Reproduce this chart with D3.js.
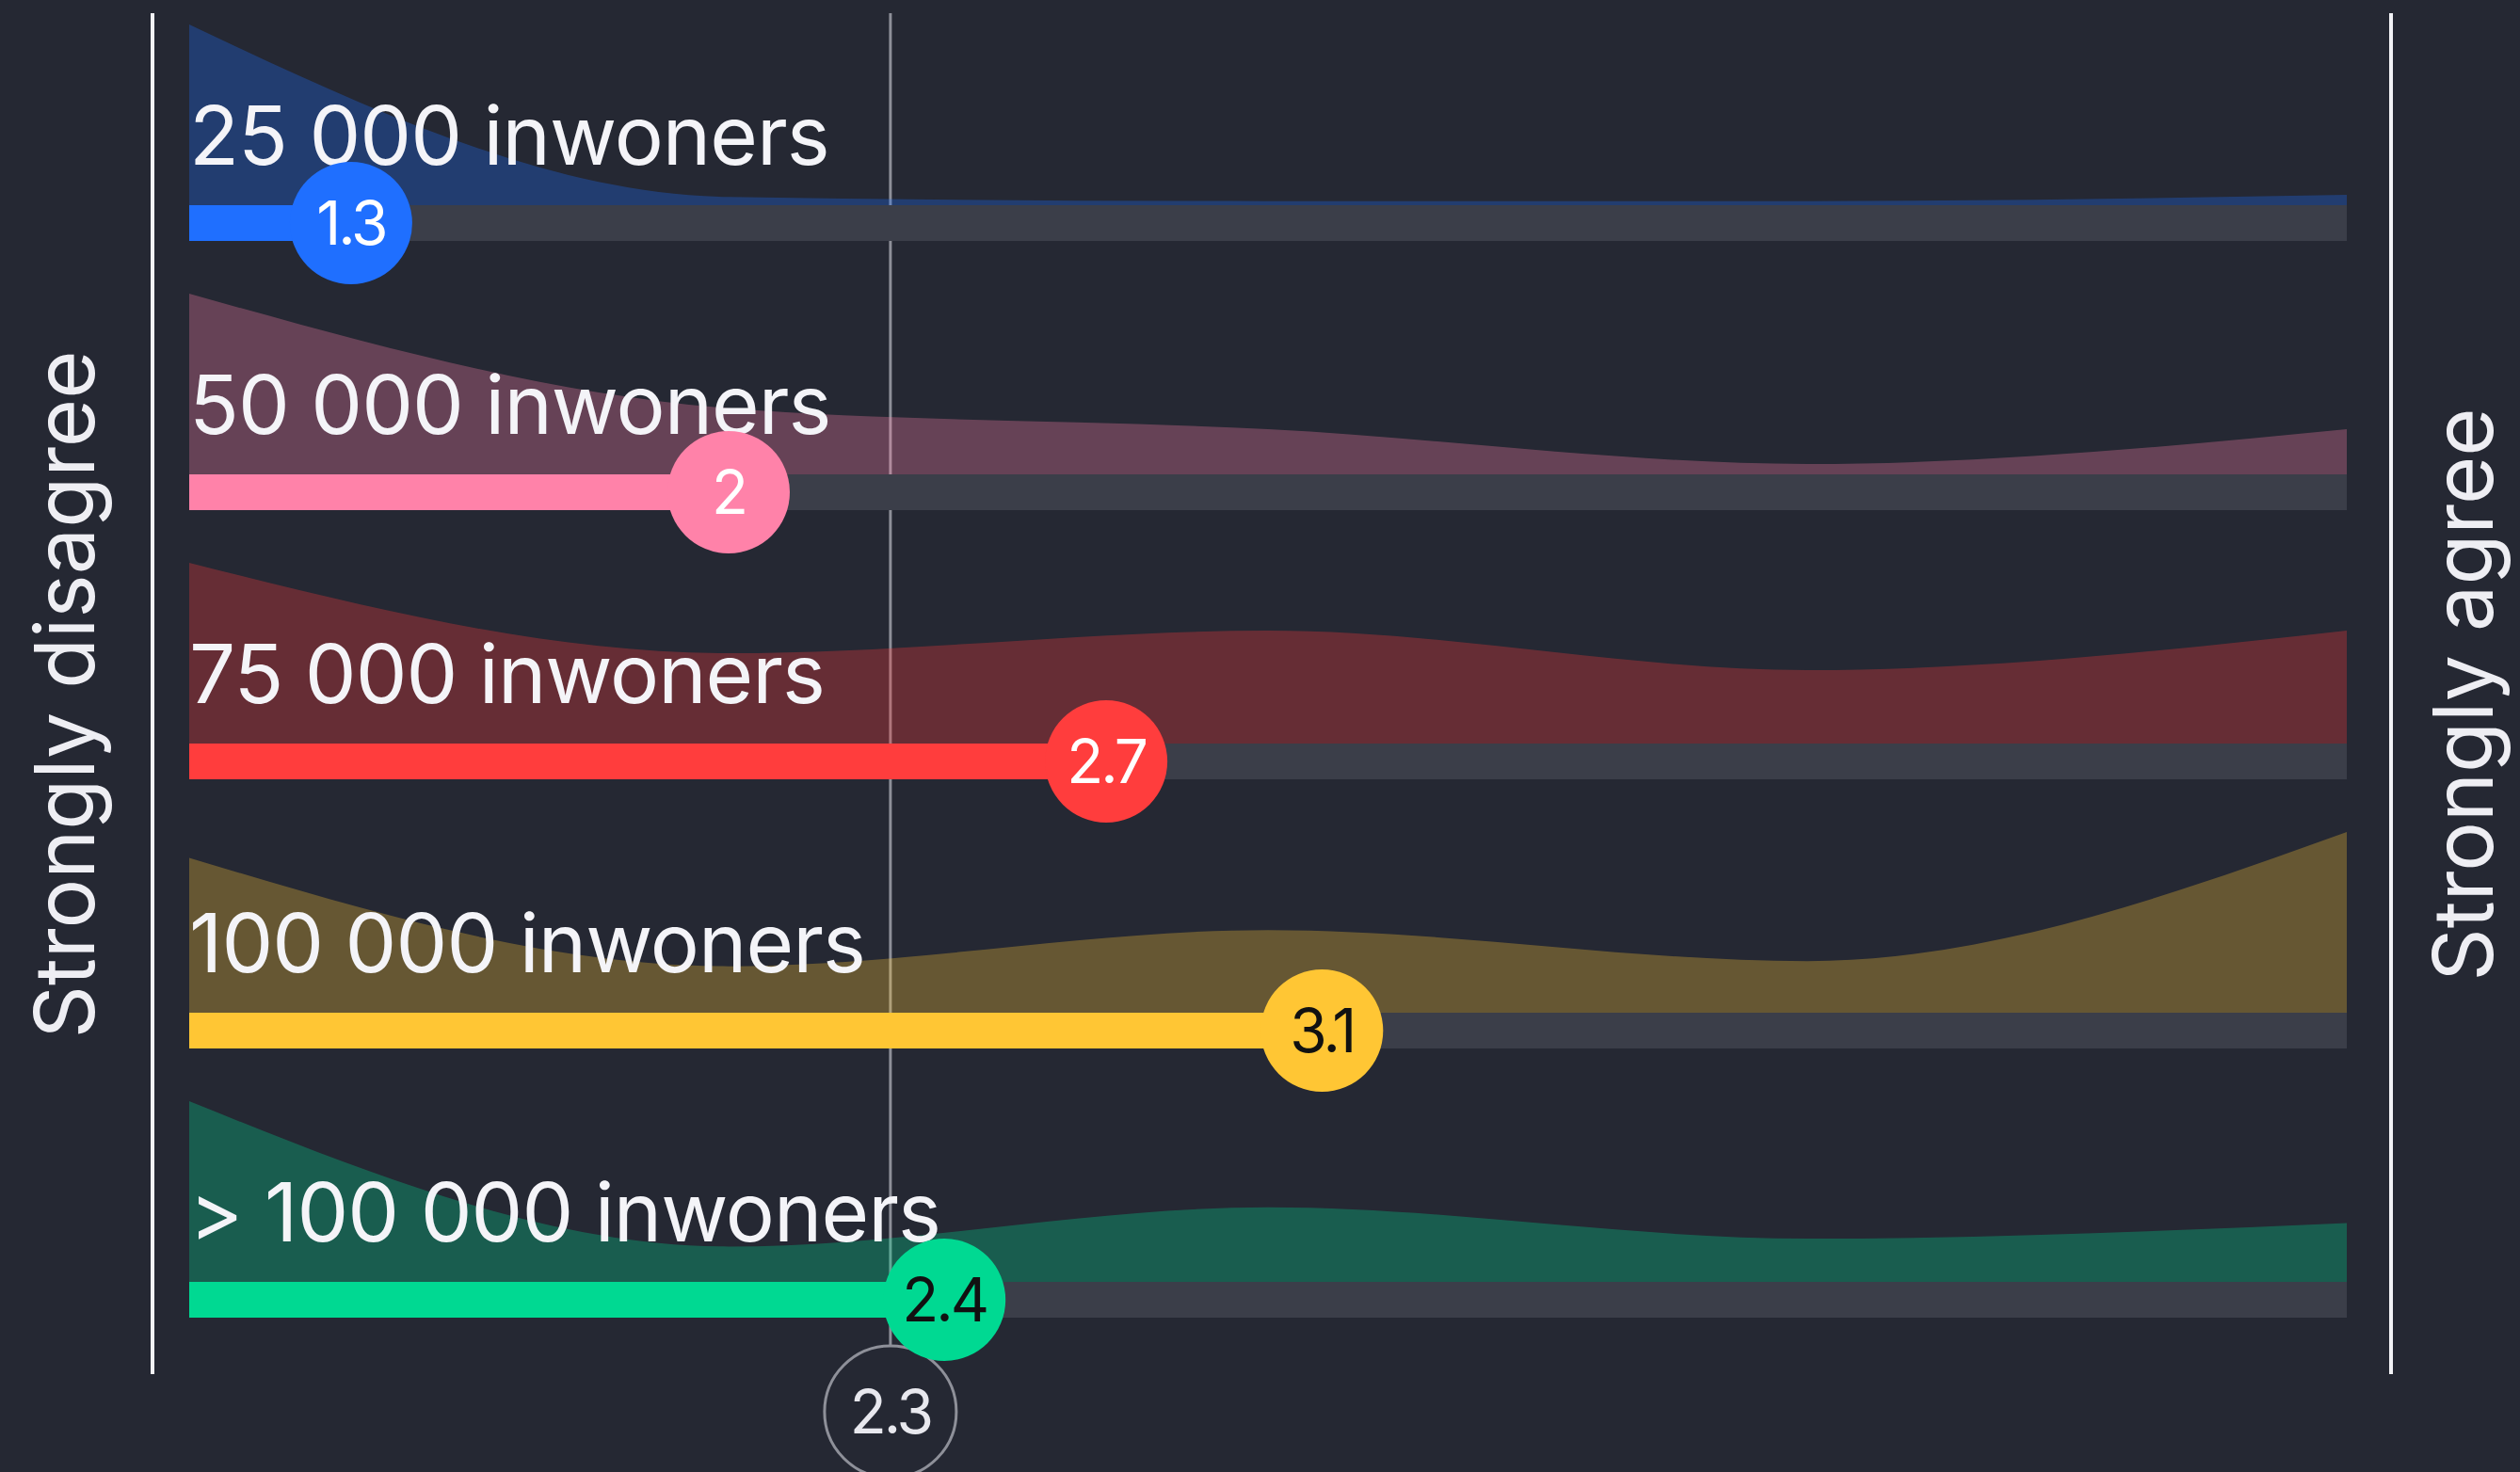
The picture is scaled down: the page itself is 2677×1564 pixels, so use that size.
<!DOCTYPE html>
<html>
<head>
<meta charset="utf-8">
<script src="https://cdn.jsdelivr.net/npm/d3@7"></script>
<style>
  html, body { margin: 0; padding: 0; background: #252833; }
  svg { display: block; }
  text { font-family: Inter, "Noto Sans", sans-serif; }
</style>
</head>
<body>
<svg id="chart" width="2677" height="1564"></svg>
<script>
// ---------- data ----------
const categories = ["25 000 inwoners", "50 000 inwoners", "75 000 inwoners", "100 000 inwoners", "> 100 000 inwoners"];
const means = [1.3, 2, 2.7, 3.1, 2.4];
const overallMean = 2.3;
const scalePoints = [1, 2, 3, 4, 5];
// share of answers per scale point (%), read from the density shapes
const dist25k  = [88, 4, 2, 2, 5];
const dist50k  = [52, 19, 13, 3, 13];
const dist75k  = [32, 16, 20, 13, 20];
const dist100k = [30, 9, 16, 10, 35];
const distOver100k = [46, 9, 19, 11, 15];
const distributions = [dist25k, dist50k, dist75k, dist100k, distOver100k];
const barColors = ["#1f6fff", "#ff82a9", "#ff3d3d", "#ffc634", "#00d992"];
const valueTextColors = ["#ffffff", "#ffffff", "#ffffff", "#111111", "#111111"];
const leftLabel = "Strongly disagree";
const rightLabel = "Strongly agree";

// ---------- layout ----------
const svg = d3.select("#chart");
const bg = "#252833";
const x = d3.scaleLinear().domain([1, 5]).range([201, 2493]);
const rowY = d3.scalePoint().domain(categories).range([237, 1381]);
const barH = 38;
const areaH = d3.scaleLinear().domain([0, 1]).range([0, 192]);

svg.append("rect").attr("width", 2677).attr("height", 1564).attr("fill", bg);

// side axis lines
svg.selectAll("line.side").data([x.range()[0] - 39, x.range()[1] + 47]).join("line")
  .attr("class", "side")
  .attr("x1", d => d).attr("x2", d => d)
  .attr("y1", 14).attr("y2", 1460)
  .attr("stroke", "#f2f2f6").attr("stroke-width", 4);

// side labels
svg.append("text")
  .attr("transform", "translate(100,738) rotate(-90)")
  .attr("text-anchor", "middle")
  .attr("font-size", 88).attr("fill", "#eeeef3")
  .attr("letter-spacing", 0)
  .text(leftLabel);
svg.append("text")
  .attr("transform", "translate(2648,738) rotate(-90)")
  .attr("text-anchor", "middle")
  .attr("font-size", 88).attr("fill", "#eeeef3")
  .attr("letter-spacing", 0)
  .text(rightLabel);

// overall mean line + circle
const mx = x(overallMean);
svg.append("line")
  .attr("x1", mx).attr("x2", mx).attr("y1", 14).attr("y2", 1430)
  .attr("stroke", "#8e9099").attr("stroke-width", 3);
svg.append("circle")
  .attr("cx", mx).attr("cy", 1500).attr("r", 70)
  .attr("fill", bg).attr("stroke", "#8e9099").attr("stroke-width", 3);
svg.append("text")
  .attr("x", mx).attr("y", 1500 + 23)
  .attr("text-anchor", "middle")
  .attr("font-size", 64).attr("fill", "#e8e8ee").attr("letter-spacing", -3)
  .text(String(overallMean));

// rows
const rows = categories.map((c, i) => ({
  cat: c, mean: means[i], dist: distributions[i], color: barColors[i], tcolor: valueTextColors[i]
}));

const g = svg.selectAll("g.row").data(rows).join("g").attr("class", "row");

g.each(function(r) {
  const gg = d3.select(this);
  const cy = rowY(r.cat);
  const base = cy - barH / 2;
  const mxv = d3.max(r.dist);
  const pts = scalePoints.map((v, k) => ({ v, p: r.dist[k] / mxv }));
  const area = d3.area()
    .x(d => x(d.v))
    .y0(base)
    .y1(d => base - areaH(d.p))
    .curve(d3.curveMonotoneX);
  gg.append("path").attr("d", area(pts)).attr("fill", r.color).attr("fill-opacity", 0.3);
  // track
  gg.append("rect").attr("x", x(1)).attr("y", base).attr("width", x(5) - x(1)).attr("height", barH)
    .attr("fill", "#3b3e49");
  // bar
  gg.append("rect").attr("x", x(1)).attr("y", base).attr("width", x(r.mean) - x(1)).attr("height", barH)
    .attr("fill", r.color);
  // label
  gg.append("text").attr("x", x(1)).attr("y", cy - 62)
    .attr("font-size", 87).attr("fill", "#f4f4f8").attr("letter-spacing", -1)
    .text(r.cat);
});

g.each(function(r) {
  const gg = d3.select(this);
  const cy = rowY(r.cat);
  gg.append("circle").attr("cx", x(r.mean)).attr("cy", cy).attr("r", 65).attr("fill", r.color);
  gg.append("text").attr("x", x(r.mean)).attr("y", cy + 23)
    .attr("text-anchor", "middle")
    .attr("font-size", 64).attr("fill", r.tcolor).attr("letter-spacing", -3)
    .text(String(r.mean));
});
</script>
</body>
</html>
